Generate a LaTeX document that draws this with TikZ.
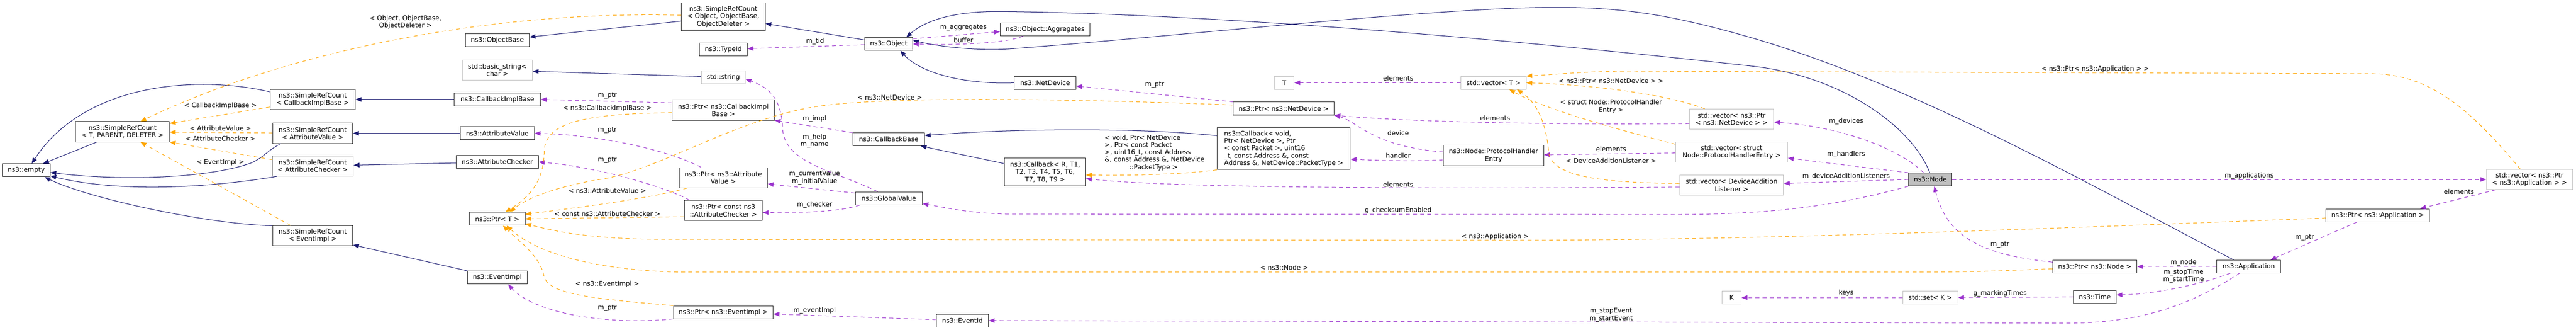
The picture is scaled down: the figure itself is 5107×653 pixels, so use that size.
\documentclass[tikz,border=0pt]{standalone}
\usepackage{fontspec}
\setmainfont{DejaVu Sans}
\usetikzlibrary{arrows.meta}
\definecolor{inhcol}{HTML}{191970}
\definecolor{usecol}{HTML}{9A32CD}
\definecolor{tmplcol}{HTML}{FFA500}
\definecolor{extgray}{HTML}{BFBFBF}

\begin{document}
\begin{tikzpicture}[x=0.775pt, y=-0.775pt, font=\fontsize{10pt}{11.3pt}\selectfont,
    cls/.style={draw=black!85, fill=white, line width=0.8pt, inner xsep=2pt, inner ysep=1pt, minimum height=19.8pt, align=center},
    ext/.style={cls, draw=extgray},
    wd/.style={minimum width=#1*0.775pt},
    two/.style={minimum height=31pt},
    three/.style={minimum height=42.6pt},
    inh/.style={draw=inhcol, line width=0.8pt, -{Triangle[length=9pt,width=7pt]}},
    usage/.style={draw=usecol, line width=0.8pt, dash pattern=on 6pt off 5pt, -{Triangle[length=9pt,width=7pt]}},
    tmpl/.style={usage, draw=tmplcol},
    lbl/.style={inner sep=0pt, align=center, text=black}]
    \useasboundingbox (0,0) rectangle (5107,653);

    % nodes %
    \node[cls, wd=95] (empty) at (52,337.5) {ns3::empty};
    \node[cls, wd=186, two] (srcT) at (243,261) {ns3::SimpleRefCount\\< T, PARENT, DELETER >};
    \node[cls, wd=169, two] (srcCib) at (620,197) {ns3::SimpleRefCount\\< CallbackImplBase >};
    \node[cls, wd=159, two] (srcAv) at (620,264) {ns3::SimpleRefCount\\< AttributeValue >};
    \node[cls, wd=161, two] (srcAc) at (620,329) {ns3::SimpleRefCount\\< AttributeChecker >};
    \node[cls, wd=159, two] (srcEi) at (620,467) {ns3::SimpleRefCount\\< EventImpl >};
    \node[cls, wd=127] (objBase) at (986,80) {ns3::ObjectBase};
    \node[ext, wd=139, two] (basicStr) at (986,139) {std::basic\_string<\\char >};
    \node[cls, wd=171] (cbImplBase) at (986,197) {ns3::CallbackImplBase};
    \node[cls, wd=147] (attrVal) at (986,264) {ns3::AttributeValue};
    \node[cls, wd=163] (attrChk) at (986,321) {ns3::AttributeChecker};
    \node[cls, wd=110] (ptrT) at (986,433.5) {ns3::Ptr< T >};
    \node[cls, wd=119] (eventImpl) at (986,550) {ns3::EventImpl};
    \node[cls, wd=166, three] (srcObj) at (1434,33) {ns3::SimpleRefCount\\< Object, ObjectBase,\\ObjectDeleter >};
    \node[cls, wd=95] (typeId) at (1434,98) {ns3::TypeId};
    \node[ext, wd=87] (stdStr) at (1434,153) {std::string};
    \node[cls, wd=203, two] (ptrCib) at (1434,218) {ns3::Ptr< ns3::CallbackImpl\\Base >};
    \node[cls, wd=175, two] (ptrAv) at (1434,352) {ns3::Ptr< ns3::Attribute\\Value >};
    \node[cls, wd=155, two] (ptrAc) at (1434,417) {ns3::Ptr< const ns3\\::AttributeChecker >};
    \node[cls, wd=198] (ptrEi) at (1434,618.5) {ns3::Ptr< ns3::EventImpl >};
    \node[cls, wd=95] (object) at (1762,87) {ns3::Object};
    \node[cls, wd=142] (cbBase) at (1762,276) {ns3::CallbackBase};
    \node[cls, wd=133] (globalVal) at (1762,393) {ns3::GlobalValue};
    \node[cls, wd=103] (eventId) at (1908,635) {ns3::EventId};
    \node[cls, wd=178] (aggr) at (2072,58) {ns3::Object::Aggregates};
    \node[cls, wd=122] (netDev) at (2072,164) {ns3::NetDevice};
    \node[cls, wd=161, three] (cbR) at (2072,341) {ns3::Callback< R, T1,\\T2, T3, T4, T5, T6,\\T7, T8, T9 >};
    \node[ext, wd=39] (tNode) at (2546,164) {T};
    \node[cls, wd=200] (ptrNd) at (2545,215) {ns3::Ptr< ns3::NetDevice >};
    \node[cls, wd=264, minimum height=64.3pt, align=left] (cbVoid) at (2545,294.5) {ns3::Callback< void,\\ Ptr< NetDevice >, Ptr\\< const Packet >, uint16\\\_t, const Address \&, const\\ Address \&, NetDevice::PacketType >};
    \node[ext, wd=129] (vecT) at (2961,164) {std::vector< T >};
    \node[cls, wd=199, two] (phe) at (2961,308) {ns3::Node::ProtocolHandler\\Entry};
    \node[ext, wd=167, two] (vecNd) at (3433,236) {std::vector< ns3::Ptr\\< ns3::NetDevice > >};
    \node[ext, wd=222, two] (vecPhe) at (3433,301.5) {std::vector< struct\\Node::ProtocolHandlerEntry >};
    \node[ext, wd=206, two] (vecDal) at (3433,367) {std::vector< DeviceAddition\\Listener >};
    \node[ext, wd=38] (kNode) at (3433,589.5) {K};
    \node[cls, wd=86, fill=extgray] (nsNode) at (3827,355.5) {ns3::Node};
    \node[ext, wd=109] (setK) at (3827,589.5) {std::set< K >};
    \node[cls, wd=167] (ptrNode) at (4153,528) {ns3::Ptr< ns3::Node >};
    \node[cls, wd=85] (timeN) at (4153,588) {ns3::Time};
    \node[cls, wd=126] (app) at (4458,528) {ns3::Application};
    \node[cls, wd=205] (ptrApp) at (4714,426.5) {ns3::Ptr< ns3::Application >};
    \node[ext, wd=171, two] (vecApp) at (5015,355.5) {std::vector< ns3::Ptr\\< ns3::Application > >};

    % edges %
    \draw[inh] (srcT) -- (empty);
    \draw[inh] (srcCib.170) .. controls (400,150) and (170,160) .. (empty.51);
    \draw[inh] (srcAv.198) .. controls (530,298) and (525,310) .. (500,322) .. controls (420,352) and (250,360) .. (empty.-5);
    \draw[inh] (srcAc.196) .. controls (440,368) and (250,385) .. (empty.-13);
    \draw[inh] (srcEi.166) .. controls (420,445) and (180,395) .. (empty.-20);
    \draw[inh] (cbImplBase) -- (srcCib);
    \draw[inh] (attrVal) -- (srcAv);
    \draw[inh] (attrChk) -- (srcAc);
    \draw[inh] (eventImpl) -- (srcEi);
    \draw[inh] (srcObj) -- (objBase);
    \draw[inh] (stdStr) -- (basicStr);
    \draw[inh] (object) -- (srcObj);
    \draw[inh] (netDev.west) .. controls (1900,168) and (1820,140) .. (object.-30);
    \draw[inh] (cbVoid.169) .. controls (2250,252) and (2000,255) .. (cbBase.6);
    \draw[inh] (cbR) -- (cbBase);
    \draw[inh] (nsNode.95) .. controls (3790,250) and (3650,150) .. (3473,131) .. controls (3150,95) and (2500,30) .. (2000,23) .. controls (1880,20) and (1830,45) .. (object.21);
    \draw[inh] (app.156) .. controls (4150,370) and (3800,170) .. (3473,75) .. controls (3300,25) and (3200,12) .. (3046,15) .. controls (2800,20) and (2300,75) .. (2000,97) .. controls (1950,100) and (1880,96) .. (object.8);

    \draw[usage] (ptrCib.172) -- (cbImplBase.east) node[lbl, at={(1204,190)}] {m\_ptr};
    \draw[usage] (ptrAv.155) .. controls (1330,300) and (1200,268) .. (attrVal.east) node[lbl, at={(1204,258)}] {m\_ptr};
    \draw[usage] (ptrAc.163) .. controls (1320,370) and (1180,330) .. (attrChk.east) node[lbl, at={(1204,317)}] {m\_ptr};
    \draw[usage] (ptrEi.south west) .. controls (1200,645) and (1060,620) .. (eventImpl.-32) node[lbl, at={(1204,610)}] {m\_ptr};
    \draw[usage] (object) -- (typeId) node[lbl, at={(1616,82)}] {m\_tid};
    \draw[usage] (object.12) -- (aggr.183) node[lbl, at={(1910,55)}] {m\_aggregates};
    \draw[usage] (aggr.-163) .. controls (2000,85) and (1900,90) .. (object.east) node[lbl, at={(1910,79)}] {buffer};
    \draw[usage] (cbBase.north west) -- (ptrCib.south east) node[lbl, at={(1615,235)}] {m\_impl};
    \draw[usage] (globalVal.149) .. controls (1660,340) and (1560,325) .. (1552,260) .. controls (1550,200) and (1530,175) .. (stdStr.-5) node[lbl, at={(1615,279)}] {m\_help\\m\_name};
    \draw[usage] (globalVal.171) -- (ptrAv.-8) node[lbl, at={(1615,352)}] {m\_currentValue\\m\_initialValue};
    \draw[usage] (globalVal.-167) .. controls (1660,420) and (1600,421) .. (ptrAc.-3) node[lbl, at={(1615,406)}] {m\_checker};
    \draw[usage] (eventId) -- (ptrEi) node[lbl, at={(1615,615)}] {m\_eventImpl};
    \draw[usage] (ptrNd.north west) -- (netDev.-6) node[lbl, at={(2289,168)}] {m\_ptr};
    \draw[usage] (vecT) -- (tNode) node[lbl, at={(2772,155)}] {elements};
    \draw[usage] (vecNd.186) .. controls (3000,248) and (2750,238) .. (ptrNd.south east) node[lbl, at={(2964,234)}] {elements};
    \draw[usage] (phe.176) .. controls (2720,290) and (2690,240) .. (ptrNd.south east) node[lbl, at={(2772,263)}] {device};
    \draw[usage] (phe.185) .. controls (2800,320) and (2740,318) .. (cbVoid.-9) node[lbl, at={(2772,308)}] {handler};
    \draw[usage] (vecPhe) -- (phe) node[lbl, at={(3194,295)}] {elements};
    \draw[usage] (vecDal.182) .. controls (2700,375) and (2300,370) .. (cbR.-9) node[lbl, at={(2772,365)}] {elements};
    \draw[usage] (nsNode.135) .. controls (3760,290) and (3640,250) .. (vecNd.-4) node[lbl, at={(3660,240)}] {m\_devices};
    \draw[usage] (nsNode.north west) -- (vecPhe.-6) node[lbl, at={(3660,306)}] {m\_handlers};
    \draw[usage] (nsNode.west) -- (vecDal.2) node[lbl, at={(3660,350)}] {m\_deviceAdditionListeners};
    \draw[usage] (nsNode.south west) .. controls (3600,420) and (3450,425) .. (3300,425) -- (2000,424) .. controls (1920,423) and (1870,410) .. (globalVal.-9) node[lbl, at={(2772,417)}] {g\_checksumEnabled};
    \draw[usage] (nsNode) -- (vecApp) node[lbl, at={(4459,348)}] {m\_applications};
    \draw[usage] (ptrNode.174) .. controls (3930,505) and (3860,470) .. (nsNode.-60) node[lbl, at={(3965,485)}] {m\_ptr};
    \draw[usage] (app) -- (ptrNode) node[lbl, at={(4329,520)}] {m\_node};
    \draw[usage] (app.-160) .. controls (4350,568) and (4260,583) .. (timeN.5) node[lbl, at={(4329,547)}] {m\_stopTime\\m\_startTime};
    \draw[usage] (setK) -- (kNode) node[lbl, at={(3660,580)}] {keys};
    \draw[usage] (timeN) -- (setK) node[lbl, at={(3965,581)}] {g\_markingTimes};
    \draw[usage] (app.-144) .. controls (4350,600) and (4250,640) .. (4100,640) -- (eventId.east) node[lbl, at={(3194,624)}] {m\_stopEvent\\m\_startEvent};
    \draw[usage] (vecApp.-163) -- (ptrApp.9) node[lbl, at={(4875,380)}] {elements};
    \draw[usage] (ptrApp.-162) -- (app.17) node[lbl, at={(4569,470)}] {m\_ptr};

    \draw[tmpl] (srcCib.190) -- (srcT.10) node[lbl, at={(437,209)}] {< CallbackImplBase >};
    \draw[tmpl] (srcAv) -- (srcT) node[lbl, at={(437,254)}] {< AttributeValue >};
    \draw[tmpl] (srcAc.171) -- (srcT.south east) node[lbl, at={(437,275)}] {< AttributeChecker >};
    \draw[tmpl] (srcEi.155) -- (srcT.-30) node[lbl, at={(437,322)}] {< EventImpl >};
    \draw[tmpl] (srcObj.178) .. controls (950,20) and (550,110) .. (srcT.30) node[lbl, at={(804,44)}] {< Object, ObjectBase,\\ObjectDeleter >};
    \draw[tmpl] (ptrCib.183) .. controls (1150,225) and (1080,245) .. (1079,300) .. controls (1078,360) and (1050,390) .. (ptrT.40) node[lbl, at={(1204,215)}] {< ns3::CallbackImplBase >};
    \draw[tmpl] (ptrNd.176) .. controls (2100,195) and (1750,190) .. (1612,212) .. controls (1450,240) and (1300,340) .. (1186,356) .. controls (1100,370) and (1040,395) .. (ptrT.28) node[lbl, at={(1764,193)}] {< ns3::NetDevice >};
    \draw[tmpl] (ptrAv.-164) .. controls (1280,395) and (1150,410) .. (ptrT.9) node[lbl, at={(1204,378)}] {< ns3::AttributeValue >};
    \draw[tmpl] (ptrAc.189) -- (ptrT.east) node[lbl, at={(1204,424)}] {< const ns3::AttributeChecker >};
    \draw[tmpl] (ptrApp.183) .. controls (4000,455) and (3500,475) .. (3000,476) -- (1300,474) .. controls (1150,472) and (1090,455) .. (ptrT.-10) node[lbl, at={(2964,469)}] {< ns3::Application >};
    \draw[tmpl] (ptrNode.183) .. controls (3900,539) .. (3700,539) -- (1350,539) .. controls (1150,535) and (1050,490) .. (ptrT.-36) node[lbl, at={(2546,530)}] {< ns3::Node >};
    \draw[tmpl] (ptrEi.north west) .. controls (1150,590) and (1085,580) .. (1078,545) .. controls (1070,505) and (1020,470) .. (ptrT.-50) node[lbl, at={(1204,563)}] {< ns3::EventImpl >};
    \draw[tmpl] (cbVoid.south west) .. controls (2350,345) and (2250,348) .. (cbR.-4) node[lbl, align=left, at={(2289,302.5)}] {< void, Ptr< NetDevice\\>, Ptr< const Packet\\>, uint16\_t, const Address\\\&, const Address \&, NetDevice\\\hspace*{38pt}::PacketType >};
    \draw[tmpl] (vecNd.159) .. controls (3300,185) and (3150,168) .. (vecT.east) node[lbl, at={(3194,160)}] {< ns3::Ptr< ns3::NetDevice > >};
    \draw[tmpl] (vecPhe.172) .. controls (3200,255) and (3060,215) .. (vecT.-23) node[lbl, at={(3194,211)}] {< struct Node::ProtocolHandler\\Entry >};
    \draw[tmpl] (vecDal.178) .. controls (3150,362) and (3075,345) .. (3070,300) .. controls (3066,250) and (3050,205) .. (vecT.-16) node[lbl, at={(3194,318)}] {< DeviceAdditionListener >};
    \draw[tmpl] (vecApp.132) .. controls (4900,220) and (4820,146) .. (4700,146) -- (3250,141) .. controls (3150,140) and (3080,148) .. (vecT.north east) node[lbl, at={(4154,137)}] {< ns3::Ptr< ns3::Application > >};
\end{tikzpicture}
\end{document}
